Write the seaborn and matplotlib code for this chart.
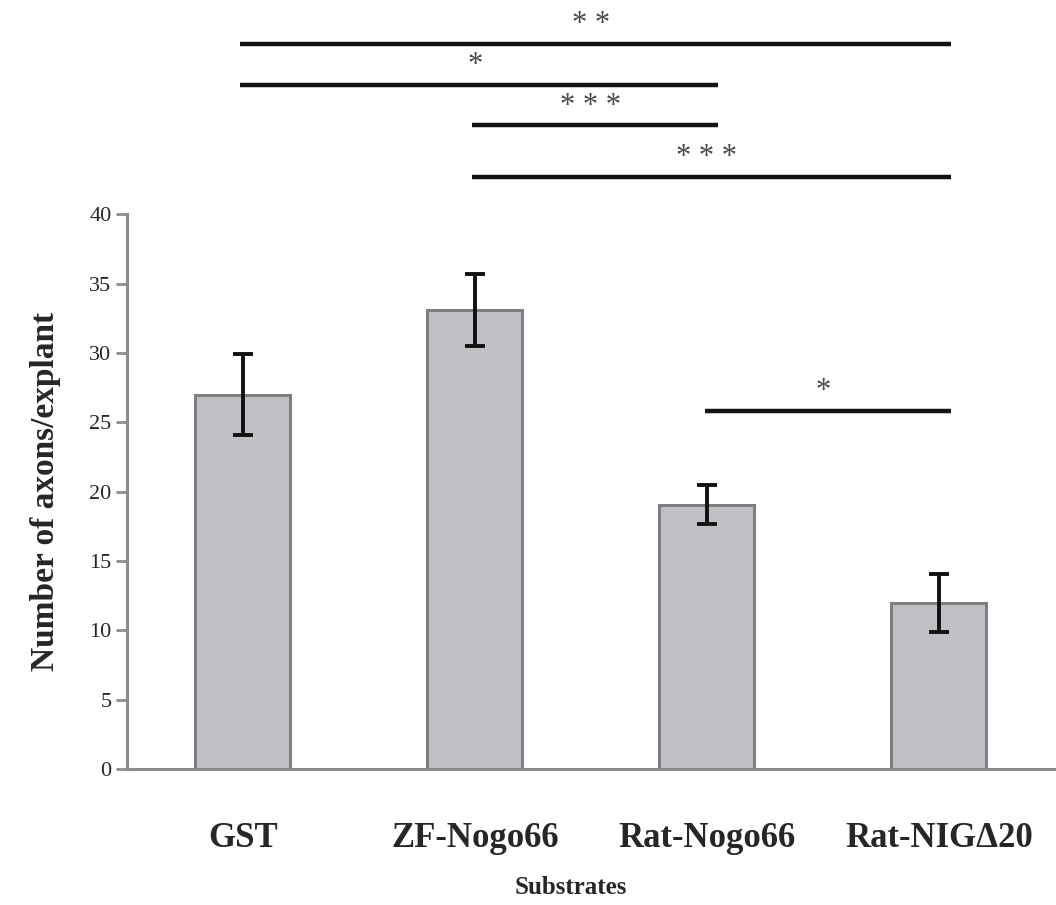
import pandas as pd
import matplotlib
matplotlib.use('Agg')
import matplotlib.pyplot as plt
import seaborn as sns

# data
substrates = ['GST', 'ZF-Nogo66', 'Rat-Nogo66', 'Rat-NIG\u039420']
axons = [27.0, 33.1, 19.05, 12.0]
errors = [2.9, 2.6, 1.4, 2.1]

# significance comparisons (pairs of category indices), level in data units
sig_pairs = [(0, 3), (0, 2), (1, 2), (1, 3), (2, 3)]
sig_levels = [52.3, 49.3, 46.4, 42.7, 25.8]
sig_labels = ['* *', '*', '* * *', '* * *', '*']

df = pd.DataFrame({'substrate': substrates, 'axons': axons})

sns.set_style('white')
plt.rcParams['font.family'] = ['Liberation Serif', 'DejaVu Serif']

fig = plt.figure(figsize=(10.56, 9.05), dpi=100)
ax = fig.add_axes([0.120, 0.150, 0.879, 0.6133])

sns.barplot(data=df, x='substrate', y='axons', color='#bfc0c4', width=0.41,
            edgecolor='#7d7f80', linewidth=2.2, saturation=1, errorbar=None, ax=ax)
ax.errorbar(range(len(substrates)), axons, yerr=errors, fmt='none', ecolor='#111111',
            elinewidth=2.8, capsize=7, capthick=2.8, zorder=5)

# significance bars
for (i, j), lvl, lab in zip(sig_pairs, sig_levels, sig_labels):
    x0 = i - 0.01
    x1 = j + 0.05
    ax.plot([x0, x1], [lvl, lvl], color='#111111', lw=3.2, clip_on=False,
            solid_capstyle='butt')
    ax.text((i + j) / 2, lvl + 0.35, lab, ha='center', va='bottom',
            fontsize=22, color='#4a4a4a', clip_on=False)

ax.set_xlim(-0.5, 3.5)
ax.set_ylim(0, 40)
ax.set_yticks(range(0, 41, 5))

sns.despine(ax=ax)
for s in ['left', 'bottom']:
    ax.spines[s].set_color('#8a8c8e')
    ax.spines[s].set_linewidth(2.2)

ax.set_xticks([-0.5, 0.5, 1.5, 2.5, 3.5], minor=True)
ax.tick_params(axis='x', which='major', length=0, pad=38, labelsize=25)
ax.tick_params(axis='x', which='minor', length=10, width=2, color='#8a8c8e', direction='out')
ax.tick_params(axis='y', which='major', length=8, width=2, color='#8a8c8e',
               direction='out', left=True, labelsize=16, pad=3)
for lbl in ax.get_xticklabels():
    lbl.set_fontweight('bold')

ax.set_xlabel('Substrates', fontsize=18, fontweight='bold')
ax.xaxis.set_label_coords(0.478, -0.192)
ax.set_ylabel('Number of axons/explant', fontsize=24, fontweight='bold', labelpad=20)

fig.savefig('out.png', dpi=100)
